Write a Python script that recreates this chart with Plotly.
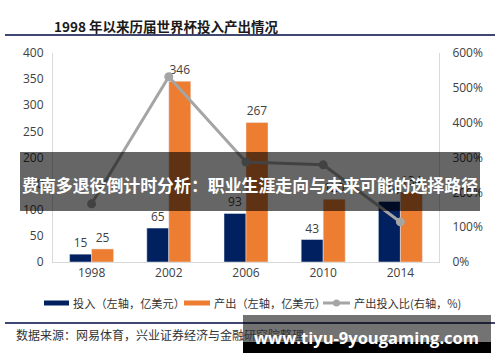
import plotly.graph_objects as go

years = ["1998", "2002", "2006", "2010", "2014"]
invest = [15, 65, 93, 43, 116]
output = [25, 346, 267, 120, 134]
ratio_pct = [167, 532, 287, 279, 115]

W, H = 500, 362
L, R, T, B = 53, 61, 53, 100
PW, PH = W - L - R, H - T - B

def px(x):
    return (x - L) / PW

def py(y):
    return (H - B - y) / PH

CJK = "Noto Sans CJK SC"
LAT = "Open Sans"
BLUE = "#002060"
ORANGE = "#ED7D31"
GRAY = "#A5A5A5"

fig = go.Figure()
fig.add_trace(go.Bar(x=years, y=invest, name="投入（左轴，亿美元）", marker_color=BLUE,
                     text=invest, textposition="outside", cliponaxis=False,
                     textfont=dict(size=12, color="#404040", family=LAT)))
fig.add_trace(go.Bar(x=years, y=output, name="产出（左轴，亿美元）", marker_color=ORANGE,
                     text=output, textposition="outside", cliponaxis=False,
                     textfont=dict(size=12, color="#404040", family=LAT)))
fig.add_trace(go.Scatter(x=years, y=ratio_pct, yaxis="y2", name="产出投入比(右轴，%)",
                         mode="lines+markers", line=dict(color=GRAY, width=3),
                         marker=dict(size=9, color=GRAY), cliponaxis=False))

shapes = []
annotations = []

# title and rules
annotations.append(dict(x=px(52), y=py(26), xref="paper", yref="paper", xanchor="left", yanchor="middle",
                        text="<b>1998 年以来历届世界杯投入产出情况</b>", showarrow=False,
                        font=dict(family=CJK, size=13.5, color="#1a1a1a")))
for yy in (35, 323):
    shapes.append(dict(type="line", xref="paper", yref="paper", x0=px(5), x1=px(495), y0=py(yy), y1=py(yy),
                       line=dict(color="#3F4770", width=2)))

# custom legend
leg_y = 303
leg = [(44, 69, BLUE, "bar", "投入（左轴，亿美元）"),
       (184, 210, ORANGE, "bar", "产出（左轴，亿美元）"),
       (323, 350, GRAY, "line", "产出投入比(右轴，%)")]
for x0, x1, c, kind, label in leg:
    if kind == "bar":
        shapes.append(dict(type="rect", xref="paper", yref="paper", x0=px(x0), x1=px(x1),
                           y0=py(leg_y + 2.5), y1=py(leg_y - 2.5), fillcolor=c, line=dict(width=0)))
    else:
        shapes.append(dict(type="line", xref="paper", yref="paper", x0=px(x0), x1=px(x1),
                           y0=py(leg_y), y1=py(leg_y), line=dict(color=c, width=3)))
        shapes.append(dict(type="circle", xref="paper", yref="paper", x0=px((x0 + x1) / 2 - 3.5),
                           x1=px((x0 + x1) / 2 + 3.5), y0=py(leg_y + 3.5), y1=py(leg_y - 3.5),
                           fillcolor=c, line=dict(width=0)))
    annotations.append(dict(x=px(x1 + 2), y=py(leg_y), xref="paper", yref="paper", xanchor="left",
                            yanchor="middle", text=label, showarrow=False,
                            font=dict(family=CJK, size=11.2, color="#333333")))

# source
annotations.append(dict(x=px(14), y=py(334), xref="paper", yref="paper", xanchor="left", yanchor="middle",
                        text="数据来源：网易体育，兴业证券经济与金融研究院整理", showarrow=False,
                        font=dict(family=CJK, size=12, color="#333333")))

# banner overlay
shapes.append(dict(type="rect", xref="paper", yref="paper", x0=px(20), x1=px(480), y0=py(211), y1=py(152),
                   fillcolor="rgba(0,0,0,0.6)", line=dict(width=0), layer="above"))
annotations.append(dict(x=px(250), y=py(184), xref="paper", yref="paper", xanchor="center", yanchor="middle",
                        text="<b>费南多退役倒计时分析：职业生涯走向与未来可能的选择路径</b>", showarrow=False,
                        font=dict(family=CJK, size=16.9, color="white")))

# watermark overlay
shapes.append(dict(type="rect", xref="paper", yref="paper", x0=px(243), x1=px(491), y0=py(342), y1=py(315),
                   fillcolor="rgba(0,0,0,0.55)", line=dict(width=0), layer="above"))
shapes.append(dict(type="rect", xref="paper", yref="paper", x0=px(243), x1=px(491), y0=py(353), y1=py(342),
                   fillcolor="black", line=dict(width=0), layer="above"))
annotations.append(dict(x=px(366), y=py(337), xref="paper", yref="paper", xanchor="center", yanchor="middle",
                        text="<b>www.tiyu-9yougaming.com</b>", showarrow=False,
                        font=dict(family=LAT, size=16.5, color="white")))

fig.update_layout(
    width=W, height=H, margin=dict(l=L, r=R, t=T, b=B, autoexpand=False),
    paper_bgcolor="white", plot_bgcolor="white",
    barmode="group", bargap=0.43, bargroupgap=0,
    showlegend=False,
    xaxis=dict(showline=True, linecolor="#D9D9D9", linewidth=1, ticks="", showgrid=False,
               tickfont=dict(family=LAT, size=12, color="#404040")),
    yaxis=dict(range=[0, 400], dtick=50, showline=True, linecolor="#D9D9D9", linewidth=1, showgrid=False,
               zeroline=False, ticks="", ticklabelstandoff=6,
               tickfont=dict(family=LAT, size=12, color="#404040")),
    yaxis2=dict(range=[0, 600], dtick=100, ticksuffix="%", overlaying="y", side="right", showline=True,
                linecolor="#D9D9D9", linewidth=1, showgrid=False, zeroline=False, ticks="",
                ticklabelstandoff=10, tickfont=dict(family=LAT, size=12, color="#404040")),
    shapes=shapes, annotations=annotations,
)

fig.write_html("out.html", config={"displayModeBar": False},
               post_script="document.body.style.margin='0';document.body.style.overflow='hidden';")
